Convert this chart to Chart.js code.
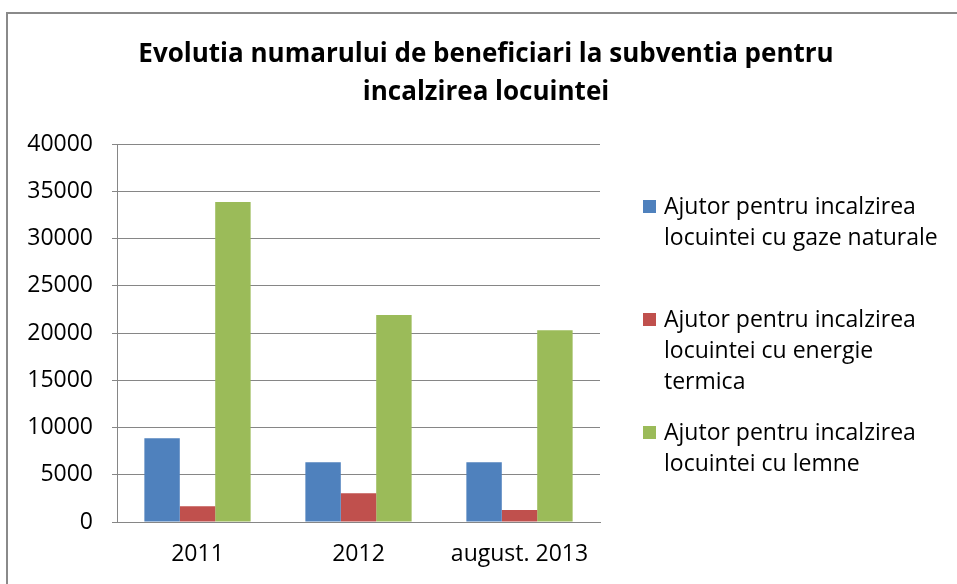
<!DOCTYPE html>
<html>
<head>
<meta charset="utf-8">
<script src="https://cdn.jsdelivr.net/npm/chart.js@4"></script>
<style>
  html, body { margin: 0; padding: 0; background: #fff; }
  #wrap { position: relative; width: 957px; height: 584px; overflow: hidden; }
  #frame { position: absolute; left: 6px; top: 12px; width: 980px; height: 600px;
           border-left: 2px solid #8a8a8a; border-top: 2px solid #8a8a8a; pointer-events: none; }
  canvas { position: absolute; left: 0; top: 0; }
</style>
</head>
<body>
<div id="wrap">
  <canvas id="benefChart" width="957" height="584"></canvas>
  <div id="frame"></div>
</div>
<script>
// chart data
const categories = ['2011', '2012', 'august. 2013'];
const gazeNaturale = [8860, 6320, 6320];
const energieTermica = [1660, 3030, 1270];
const lemne = [33860, 21900, 20280];
const yTicks = [0, 5000, 10000, 15000, 20000, 25000, 30000, 35000, 40000];

const titleLines = ['Evolutia numarului de beneficiari la subventia pentru', 'incalzirea locuintei'];
const seriesLabels = [
    ['Ajutor pentru incalzirea', 'locuintei cu gaze naturale'],
    ['Ajutor pentru incalzirea', 'locuintei cu energie', 'termica'],
    ['Ajutor pentru incalzirea', 'locuintei cu lemne']
];
const seriesColors = ['#4F81BD', '#C0504D', '#9BBB59'];

const FONT = '"Open Sans", Lato, sans-serif';

// title centred over the whole frame (built-in one would centre over the plot only)
const frameTitle = {
    id: 'frameTitle',
    afterDraw(chart) {
        const ctx = chart.ctx;
        ctx.save();
        ctx.font = 'bold 26px ' + FONT;
        ctx.fillStyle = '#000';
        ctx.textAlign = 'center';
        ctx.textBaseline = 'middle';
        titleLines.forEach(function(line, i) {
            ctx.fillText(line, 486, 55 + i * 38);
        });
        ctx.restore();
    }
};

// legend with wrapped lines, drawn to the right of the plot
const wrapLegend = {
    id: 'wrapLegend',
    afterDraw(chart) {
        const ctx = chart.ctx;
        const area = chart.chartArea;
        const x = area.right + 43;
        let y = area.top + 63;
        ctx.save();
        ctx.font = '23px ' + FONT;
        ctx.textBaseline = 'middle';
        ctx.textAlign = 'left';
        chart.data.datasets.forEach(function(ds, i) {
            ctx.fillStyle = ds.backgroundColor;
            ctx.fillRect(x, y - 7, 13, 13);
            ctx.fillStyle = '#000';
            seriesLabels[i].forEach(function(line, j) {
                ctx.fillText(line, x + 21, y + j * 31);
            });
            y += 113;
        });
        ctx.restore();
    }
};

document.addEventListener('DOMContentLoaded', function() {
    const ctx = document.getElementById('benefChart').getContext('2d');
    new Chart(ctx, {
        type: 'bar',
        data: {
            labels: categories,
            datasets: [
                { label: seriesLabels[0].join(' '), data: gazeNaturale, backgroundColor: seriesColors[0] },
                { label: seriesLabels[1].join(' '), data: energieTermica, backgroundColor: seriesColors[1] },
                { label: seriesLabels[2].join(' '), data: lemne, backgroundColor: seriesColors[2] }
            ]
        },
        options: {
            responsive: false,
            animation: false,
            layout: { padding: { left: 14, right: 357, top: 144, bottom: 0 } },
            datasets: {
                bar: { categoryPercentage: 0.66, barPercentage: 1, borderWidth: 0 }
            },
            plugins: {
                legend: { display: false },
                tooltip: { enabled: false },
                title: { display: false }
            },
            scales: {
                x: {
                    afterFit(scale) { scale.height = 62; },
                    grid: { display: false, drawTicks: false },
                    border: { display: true, color: '#868686', width: 1 },
                    ticks: { color: '#000', padding: 19, font: { family: FONT, size: 23 } }
                },
                y: {
                    min: 0,
                    max: 40000,
                    afterFit(scale) { scale.width = 103; },
                    afterBuildTicks(scale) { scale.ticks = yTicks.map(v => ({ value: v })); },
                    grid: { color: '#868686', tickLength: 5, lineWidth: 1 },
                    border: { display: true, color: '#868686', width: 1 },
                    ticks: {
                        color: '#000',
                        padding: 19,
                        font: { family: FONT, size: 23 },
                        callback: v => String(v)
                    }
                }
            }
        },
        plugins: [frameTitle, wrapLegend]
    });
});
</script>
</body>
</html>
